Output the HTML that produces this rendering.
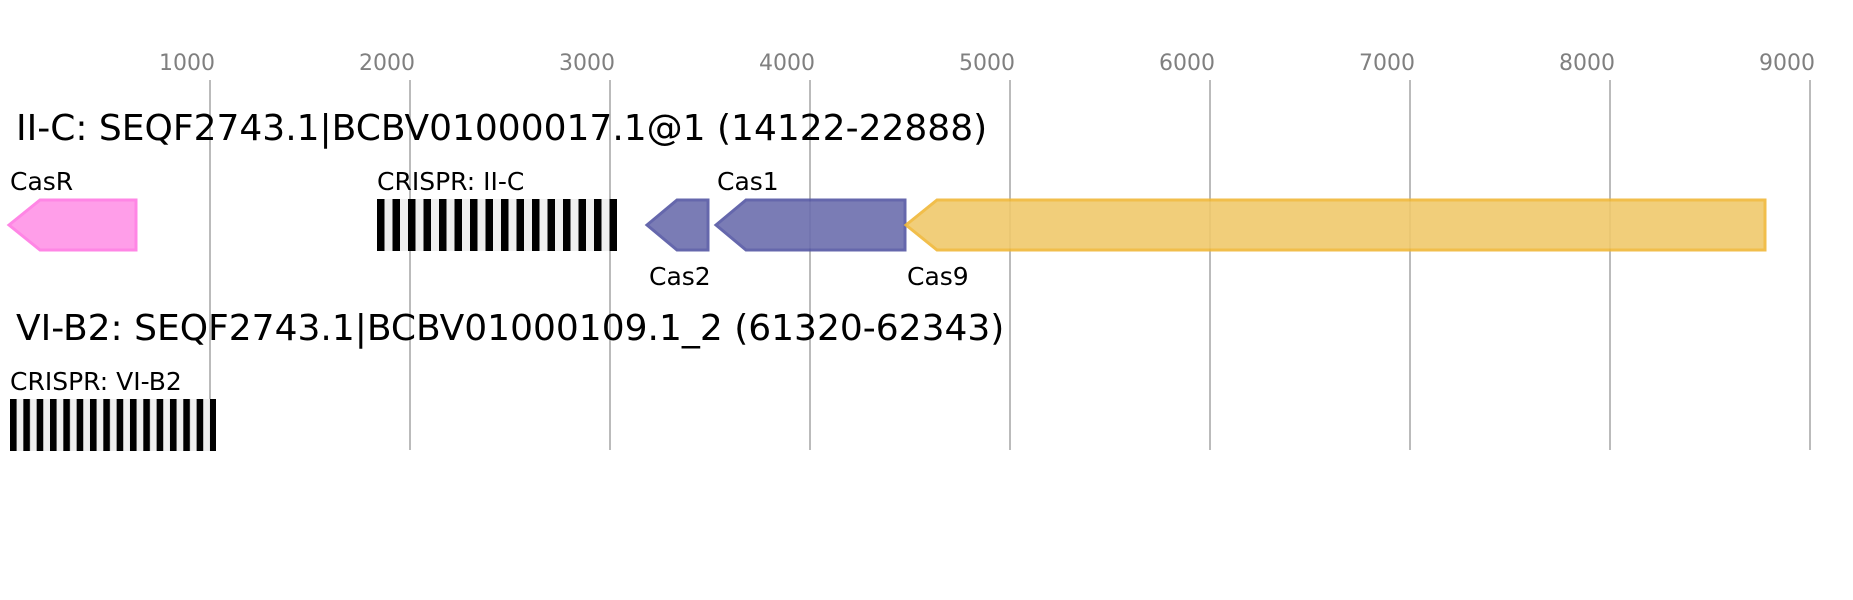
<!DOCTYPE html>
<html><head><meta charset="utf-8"><style>
html,body{margin:0;padding:0;background:#fff;}
svg{display:block;font-family:"DejaVu Sans","Liberation Sans",sans-serif;}
</style></head><body>
<svg width="1853" height="600" viewBox="0 0 1853 600" xmlns="http://www.w3.org/2000/svg">
<defs>
<pattern id="cr1" x="377" y="0" width="15.5" height="10" patternUnits="userSpaceOnUse">
<rect x="0" y="0" width="15.5" height="10" fill="#efefef"/><rect x="0" y="0" width="7.5" height="10" fill="#000"/></pattern>
<pattern id="cr2" x="10" y="0" width="13.33" height="10" patternUnits="userSpaceOnUse">
<rect x="0" y="0" width="13.33" height="10" fill="#efefef"/><rect x="0" y="0" width="6.6" height="10" fill="#000"/></pattern>
</defs>
<g stroke="#bbbbbb" stroke-width="2">
<line x1="210" y1="80" x2="210" y2="450"/><line x1="410" y1="80" x2="410" y2="450"/>
<line x1="610" y1="80" x2="610" y2="450"/><line x1="810" y1="80" x2="810" y2="450"/>
<line x1="1010" y1="80" x2="1010" y2="450"/><line x1="1210" y1="80" x2="1210" y2="450"/>
<line x1="1410" y1="80" x2="1410" y2="450"/><line x1="1610" y1="80" x2="1610" y2="450"/>
<line x1="1810" y1="80" x2="1810" y2="450"/>
</g>
<g fill="#808080" font-size="22" text-anchor="end">
<text x="215" y="70">1000</text><text x="415" y="70">2000</text><text x="615" y="70">3000</text>
<text x="815" y="70">4000</text><text x="1015" y="70">5000</text><text x="1215" y="70">6000</text>
<text x="1415" y="70">7000</text><text x="1615" y="70">8000</text><text x="1815" y="70">9000</text>
</g>
<text x="16" y="140" font-size="36" fill="#000">II-C: SEQF2743.1|BCBV01000017.1@1 (14122-22888)</text>
<text x="16" y="340" font-size="36" fill="#000">VI-B2: SEQF2743.1|BCBV01000109.1_2 (61320-62343)</text>
<g font-size="25" fill="#000">
<text x="10" y="190">CasR</text>
<text x="377" y="190">CRISPR: II-C</text>
<text x="717" y="190">Cas1</text>
<text x="649" y="285">Cas2</text>
<text x="907" y="285">Cas9</text>
<text x="10" y="390">CRISPR: VI-B2</text>
</g>
<polygon points="9,225 40,200 136,200 136,250 40,250" fill="#ff99e8" stroke="#ff80e4" stroke-width="3" opacity="0.95"/>
<rect x="377" y="199" width="240" height="52" fill="url(#cr1)"/>
<rect x="10" y="399" width="206" height="52" fill="url(#cr2)"/>
<polygon points="647,225 677,200 708,200 708,250 677,250" fill="#6c6eae" stroke="#5557a4" stroke-width="3" opacity="0.9"/>
<polygon points="716,225 746,200 905,200 905,250 746,250" fill="#6c6eae" stroke="#5557a4" stroke-width="3" opacity="0.9"/>
<polygon points="906,225 937,200 1765,200 1765,250 937,250" fill="#f0c96c" stroke="#f0b838" stroke-width="3" opacity="0.9"/>
</svg>
</body></html>
